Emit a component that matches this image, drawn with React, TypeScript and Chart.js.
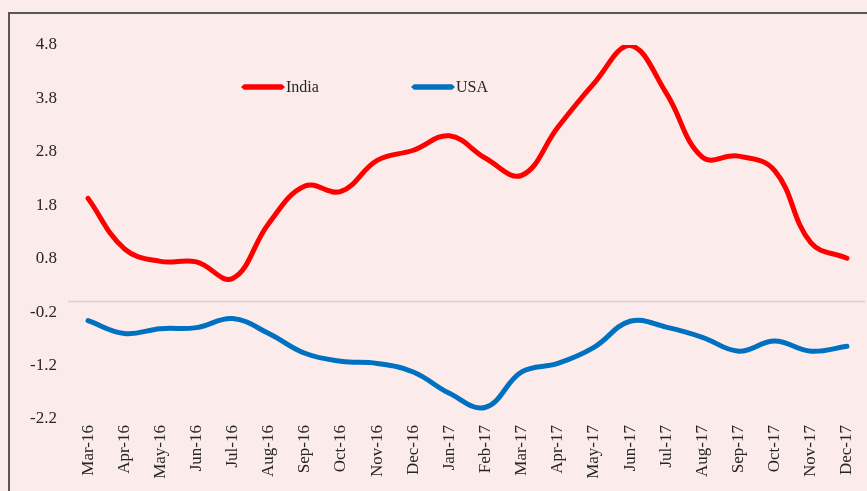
import React, { useEffect, useRef } from "react";
import { Chart, registerables } from "chart.js";

Chart.register(...registerables);

const months = [
  "Mar-16", "Apr-16", "May-16", "Jun-16", "Jul-16", "Aug-16", "Sep-16", "Oct-16",
  "Nov-16", "Dec-16", "Jan-17", "Feb-17", "Mar-17", "Apr-17", "May-17", "Jun-17",
  "Jul-17", "Aug-17", "Sep-17", "Oct-17", "Nov-17", "Dec-17",
];

const india = [
  1.93, 0.99, 0.75, 0.74, 0.43, 1.46, 2.16, 2.06, 2.64, 2.83, 3.1,
  2.68, 2.36, 3.26, 4.08, 4.79, 3.9, 2.7, 2.72, 2.45, 1.1, 0.81,
];

const usa = [
  -0.36, -0.6, -0.51, -0.49, -0.32, -0.6, -0.97, -1.12, -1.16, -1.32, -1.72,
  -1.98, -1.32, -1.16, -0.86, -0.37, -0.48, -0.67, -0.93, -0.74, -0.93, -0.84,
];

const yTicks = [4.8, 3.8, 2.8, 1.8, 0.8, -0.2, -1.2, -2.2];
const seriesNames = ["India", "USA"];

const RED = "#ff0000";
const BLUE = "#0070c0";
const BG = "#fbebea";
const TEXT = "#262626";
const FONT = "'Liberation Serif', 'Times New Roman', serif";

const zeroLinePlugin = {
  id: "zeroLine",
  beforeDatasetsDraw(chart: any) {
    const { ctx, chartArea, scales } = chart;
    const y = Math.round(scales.y.getPixelForValue(0)) + 0.5;
    ctx.save();
    ctx.strokeStyle = "#d9d2d0";
    ctx.lineWidth = 1.5;
    ctx.beginPath();
    ctx.moveTo(chartArea.left - 2, y);
    ctx.lineTo(chartArea.right, y);
    ctx.stroke();
    ctx.restore();
  },
};

const legendPlugin = {
  id: "customLegend",
  afterDraw(chart: any) {
    const { ctx, chartArea } = chart;
    const colors = [RED, BLUE];
    const starts = [chartArea.left + 171, chartArea.left + 341];
    const y = chartArea.top + 42;
    ctx.save();
    seriesNames.forEach((name, i) => {
      const x0 = starts[i];
      const x1 = x0 + 44;
      ctx.fillStyle = colors[i];
      ctx.beginPath();
      ctx.moveTo(x0, y);
      ctx.lineTo(x0 + 3, y - 2.8);
      ctx.lineTo(x1 - 3, y - 2.8);
      ctx.lineTo(x1, y);
      ctx.lineTo(x1 - 3, y + 2.8);
      ctx.lineTo(x0 + 3, y + 2.8);
      ctx.closePath();
      ctx.fill();
      ctx.fillStyle = TEXT;
      ctx.font = `16px ${FONT}`;
      ctx.textAlign = "left";
      ctx.textBaseline = "middle";
      ctx.fillText(name, x1 + 1, y + 1);
    });
    ctx.restore();
  },
};

export default function App() {
  const ref = useRef<HTMLCanvasElement | null>(null);

  useEffect(() => {
    if (!ref.current) return;
    const chart = new Chart(ref.current, {
      type: "line",
      data: {
        labels: months,
        datasets: [
          {
            label: seriesNames[0],
            data: india,
            borderColor: RED,
            backgroundColor: RED,
            borderWidth: 5,
            pointRadius: 0,
            tension: 0.4,
            borderCapStyle: "round",
            borderJoinStyle: "round",
          },
          {
            label: seriesNames[1],
            data: usa,
            borderColor: BLUE,
            backgroundColor: BLUE,
            borderWidth: 5,
            pointRadius: 0,
            tension: 0.4,
            borderCapStyle: "round",
            borderJoinStyle: "round",
          },
        ],
      },
      options: {
        responsive: false,
        animation: false,
        layout: { padding: { top: 45, right: 2, left: 0, bottom: 0 } },
        plugins: {
          legend: { display: false },
          tooltip: { enabled: false },
        },
        scales: {
          x: {
            type: "category",
            offset: true,
            grid: { display: false, drawTicks: false, tickLength: 0 },
            border: { display: false },
            ticks: {
              autoSkip: false,
              minRotation: 90,
              maxRotation: 90,
              padding: 6,
              color: TEXT,
              font: { family: FONT, size: 17 },
            },
            afterFit: (scale: any) => {
              scale.height = 72;
              scale.paddingLeft = 0;
              scale.paddingRight = 0;
            },
          },
          y: {
            type: "linear",
            min: -2.2,
            max: 4.8,
            grid: { display: false, drawTicks: false, tickLength: 0 },
            border: { display: false },
            afterBuildTicks: (scale: any) => {
              scale.ticks = yTicks.map((v) => ({ value: v }));
            },
            ticks: {
              padding: 13,
              color: TEXT,
              font: { family: FONT, size: 17 },
              callback: (v: any) => Number(v).toFixed(1),
            },
            afterFit: (scale: any) => {
              scale.width = 70;
            },
          },
        },
      },
      plugins: [zeroLinePlugin, legendPlugin],
    });
    return () => chart.destroy();
  }, []);

  return (
    <div
      style={{
        position: "fixed",
        left: 0,
        top: 0,
        width: 867,
        height: 491,
        background: BG,
        overflow: "hidden",
      }}
    >
      <div
        style={{
          position: "absolute",
          left: 8,
          top: 12,
          width: 950,
          height: 600,
          border: "2px solid #5a5656",
        }}
      />
      <canvas
        ref={ref}
        width={867}
        height={491}
        style={{ position: "absolute", left: 0, top: 0 }}
      />
    </div>
  );
}
